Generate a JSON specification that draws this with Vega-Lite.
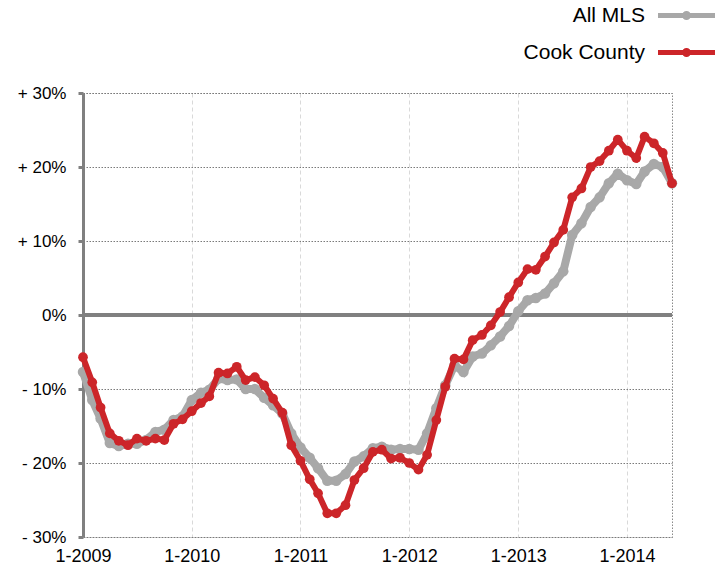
{
  "$schema": "https://vega.github.io/schema/vega-lite/v6.json",
  "width": 589,
  "height": 444,
  "autosize": {"type": "none"},
  "padding": {"left": 83, "top": 93, "right": 44, "bottom": 31},
  "background": "white",
  "config": {
    "font": "Liberation Sans",
    "view": {"stroke": "#8a8a8a", "strokeDash": [1.5, 1.5], "strokeWidth": 1}
  },
  "data": {"values": [
    {"d":"2009/01/01","s":"All MLS","v":-7.7},{"d":"2009/02/01","s":"All MLS","v":-11.5},{"d":"2009/03/01","s":"All MLS","v":-14.0},{"d":"2009/04/01","s":"All MLS","v":-17.3},{"d":"2009/05/01","s":"All MLS","v":-17.7},{"d":"2009/06/01","s":"All MLS","v":-17.4},{"d":"2009/07/01","s":"All MLS","v":-17.4},{"d":"2009/08/01","s":"All MLS","v":-16.9},{"d":"2009/09/01","s":"All MLS","v":-15.8},{"d":"2009/10/01","s":"All MLS","v":-15.5},{"d":"2009/11/01","s":"All MLS","v":-14.2},{"d":"2009/12/01","s":"All MLS","v":-13.7},
    {"d":"2010/01/01","s":"All MLS","v":-11.5},{"d":"2010/02/01","s":"All MLS","v":-10.5},{"d":"2010/03/01","s":"All MLS","v":-10.1},{"d":"2010/04/01","s":"All MLS","v":-8.6},{"d":"2010/05/01","s":"All MLS","v":-8.8},{"d":"2010/06/01","s":"All MLS","v":-8.7},{"d":"2010/07/01","s":"All MLS","v":-10.0},{"d":"2010/08/01","s":"All MLS","v":-10.0},{"d":"2010/09/01","s":"All MLS","v":-11.2},{"d":"2010/10/01","s":"All MLS","v":-12.2},{"d":"2010/11/01","s":"All MLS","v":-13.3},{"d":"2010/12/01","s":"All MLS","v":-16.0},
    {"d":"2011/01/01","s":"All MLS","v":-17.9},{"d":"2011/02/01","s":"All MLS","v":-19.3},{"d":"2011/03/01","s":"All MLS","v":-20.7},{"d":"2011/04/01","s":"All MLS","v":-22.4},{"d":"2011/05/01","s":"All MLS","v":-22.4},{"d":"2011/06/01","s":"All MLS","v":-21.5},{"d":"2011/07/01","s":"All MLS","v":-19.8},{"d":"2011/08/01","s":"All MLS","v":-19.1},{"d":"2011/09/01","s":"All MLS","v":-18.0},{"d":"2011/10/01","s":"All MLS","v":-17.8},{"d":"2011/11/01","s":"All MLS","v":-18.2},{"d":"2011/12/01","s":"All MLS","v":-18.1},
    {"d":"2012/01/01","s":"All MLS","v":-18.1},{"d":"2012/02/01","s":"All MLS","v":-18.2},{"d":"2012/03/01","s":"All MLS","v":-16.0},{"d":"2012/04/01","s":"All MLS","v":-12.6},{"d":"2012/05/01","s":"All MLS","v":-9.5},{"d":"2012/06/01","s":"All MLS","v":-6.8},{"d":"2012/07/01","s":"All MLS","v":-7.7},{"d":"2012/08/01","s":"All MLS","v":-5.6},{"d":"2012/09/01","s":"All MLS","v":-5.2},{"d":"2012/10/01","s":"All MLS","v":-4.1},{"d":"2012/11/01","s":"All MLS","v":-2.9},{"d":"2012/12/01","s":"All MLS","v":-1.5},
    {"d":"2013/01/01","s":"All MLS","v":0.5},{"d":"2013/02/01","s":"All MLS","v":2.0},{"d":"2013/03/01","s":"All MLS","v":2.3},{"d":"2013/04/01","s":"All MLS","v":2.9},{"d":"2013/05/01","s":"All MLS","v":4.3},{"d":"2013/06/01","s":"All MLS","v":5.9},{"d":"2013/07/01","s":"All MLS","v":10.8},{"d":"2013/08/01","s":"All MLS","v":12.4},{"d":"2013/09/01","s":"All MLS","v":14.6},{"d":"2013/10/01","s":"All MLS","v":15.9},{"d":"2013/11/01","s":"All MLS","v":17.8},{"d":"2013/12/01","s":"All MLS","v":19.1},
    {"d":"2014/01/01","s":"All MLS","v":18.2},{"d":"2014/02/01","s":"All MLS","v":17.7},{"d":"2014/03/01","s":"All MLS","v":19.4},{"d":"2014/04/01","s":"All MLS","v":20.4},{"d":"2014/05/01","s":"All MLS","v":20.0},{"d":"2014/06/01","s":"All MLS","v":17.8},
    {"d":"2009/01/01","s":"Cook County","v":-5.7},{"d":"2009/02/01","s":"Cook County","v":-9.1},{"d":"2009/03/01","s":"Cook County","v":-12.5},{"d":"2009/04/01","s":"Cook County","v":-16.0},{"d":"2009/05/01","s":"Cook County","v":-17.0},{"d":"2009/06/01","s":"Cook County","v":-17.6},{"d":"2009/07/01","s":"Cook County","v":-16.7},{"d":"2009/08/01","s":"Cook County","v":-17.0},{"d":"2009/09/01","s":"Cook County","v":-16.7},{"d":"2009/10/01","s":"Cook County","v":-16.9},{"d":"2009/11/01","s":"Cook County","v":-14.7},{"d":"2009/12/01","s":"Cook County","v":-14.1},
    {"d":"2010/01/01","s":"Cook County","v":-13.0},{"d":"2010/02/01","s":"Cook County","v":-11.9},{"d":"2010/03/01","s":"Cook County","v":-11.0},{"d":"2010/04/01","s":"Cook County","v":-7.8},{"d":"2010/05/01","s":"Cook County","v":-7.9},{"d":"2010/06/01","s":"Cook County","v":-7.0},{"d":"2010/07/01","s":"Cook County","v":-8.8},{"d":"2010/08/01","s":"Cook County","v":-8.4},{"d":"2010/09/01","s":"Cook County","v":-9.5},{"d":"2010/10/01","s":"Cook County","v":-11.3},{"d":"2010/11/01","s":"Cook County","v":-13.2},{"d":"2010/12/01","s":"Cook County","v":-17.6},
    {"d":"2011/01/01","s":"Cook County","v":-19.7},{"d":"2011/02/01","s":"Cook County","v":-22.2},{"d":"2011/03/01","s":"Cook County","v":-24.1},{"d":"2011/04/01","s":"Cook County","v":-26.8},{"d":"2011/05/01","s":"Cook County","v":-26.8},{"d":"2011/06/01","s":"Cook County","v":-25.7},{"d":"2011/07/01","s":"Cook County","v":-22.3},{"d":"2011/08/01","s":"Cook County","v":-20.7},{"d":"2011/09/01","s":"Cook County","v":-18.5},{"d":"2011/10/01","s":"Cook County","v":-18.2},{"d":"2011/11/01","s":"Cook County","v":-19.4},{"d":"2011/12/01","s":"Cook County","v":-19.3},
    {"d":"2012/01/01","s":"Cook County","v":-20.0},{"d":"2012/02/01","s":"Cook County","v":-20.9},{"d":"2012/03/01","s":"Cook County","v":-18.9},{"d":"2012/04/01","s":"Cook County","v":-14.2},{"d":"2012/05/01","s":"Cook County","v":-9.7},{"d":"2012/06/01","s":"Cook County","v":-5.9},{"d":"2012/07/01","s":"Cook County","v":-6.0},{"d":"2012/08/01","s":"Cook County","v":-3.4},{"d":"2012/09/01","s":"Cook County","v":-2.7},{"d":"2012/10/01","s":"Cook County","v":-1.4},{"d":"2012/11/01","s":"Cook County","v":0.4},{"d":"2012/12/01","s":"Cook County","v":2.4},
    {"d":"2013/01/01","s":"Cook County","v":4.4},{"d":"2013/02/01","s":"Cook County","v":6.2},{"d":"2013/03/01","s":"Cook County","v":6.1},{"d":"2013/04/01","s":"Cook County","v":7.9},{"d":"2013/05/01","s":"Cook County","v":9.8},{"d":"2013/06/01","s":"Cook County","v":11.5},{"d":"2013/07/01","s":"Cook County","v":15.9},{"d":"2013/08/01","s":"Cook County","v":17.1},{"d":"2013/09/01","s":"Cook County","v":20.0},{"d":"2013/10/01","s":"Cook County","v":20.8},{"d":"2013/11/01","s":"Cook County","v":22.2},{"d":"2013/12/01","s":"Cook County","v":23.7},
    {"d":"2014/01/01","s":"Cook County","v":22.2},{"d":"2014/02/01","s":"Cook County","v":21.2},{"d":"2014/03/01","s":"Cook County","v":24.1},{"d":"2014/04/01","s":"Cook County","v":23.2},{"d":"2014/05/01","s":"Cook County","v":21.9},{"d":"2014/06/01","s":"Cook County","v":17.8}
  ]},
  "layer": [
    {
      "mark": {"type": "rule", "color": "#808080", "strokeWidth": 4},
      "encoding": {"y": {"datum": 0, "type": "quantitative", "scale": {"domain": [-30, 30], "nice": false},
          "axis": {"title": null, "values": [-30, -20, -10, 0, 10, 20, 30], "labelExpr": "datum.value > 0 ? '+ ' + datum.value + '%' : (datum.value < 0 ? '- ' + abs(datum.value) + '%' : '0%')", "domain": true, "domainColor": "#808080", "domainWidth": 3, "ticks": true, "tickColor": "#808080", "tickWidth": 3, "tickSize": 5, "grid": true, "gridColor": "#7a7a7a", "gridDash": [1.5, 1.5], "gridWidth": 1, "labelFontSize": 17, "labelColor": "#000", "labelPadding": 12}}}
    },
    {
      "transform": [{"filter": "datum.s === 'All MLS'"}],
      "mark": {"type": "line", "strokeWidth": 8, "point": {"filled": true, "size": 110, "opacity": 1}},
      "encoding": {
        "x": {"field": "d", "type": "temporal", "scale": {"nice": false},
          "axis": {"title": null, "tickCount": {"interval": "year", "step": 1}, "labelExpr": "'1-' + timeFormat(datum.value, '%Y')", "ticks": false, "domain": false, "grid": true, "gridColor": "#d9d9d9", "gridDash": [4, 3], "gridWidth": 1, "labelFontSize": 18, "labelColor": "#000", "labelPadding": 10, "labelFlush": false}},
        "y": {"field": "v", "type": "quantitative"},
        "color": {"field": "s", "type": "nominal", "scale": {"domain": ["All MLS", "Cook County"], "range": ["#a8a8a8", "#cc2529"]},
          "legend": {"title": null, "orient": "none", "legendX": 586, "legendY": -95, "symbolType": "M-1.9,0L1.9,0M-0.13,0A0.13,0.13 0 1,1 0.13,0A0.13,0.13 0 1,1 -0.13,0", "symbolSize": 900, "symbolStrokeWidth": 5, "labelFontSize": 21, "labelAlign": "right", "labelOffset": -59, "rowPadding": 7, "labelColor": "#000"}}
      }
    },
    {
      "transform": [{"filter": "datum.s === 'Cook County'"}],
      "mark": {"type": "line", "strokeWidth": 6, "point": {"filled": true, "size": 95, "opacity": 1}},
      "encoding": {
        "x": {"field": "d", "type": "temporal"},
        "y": {"field": "v", "type": "quantitative"},
        "color": {"field": "s", "type": "nominal"}
      }
    }
  ]
}
